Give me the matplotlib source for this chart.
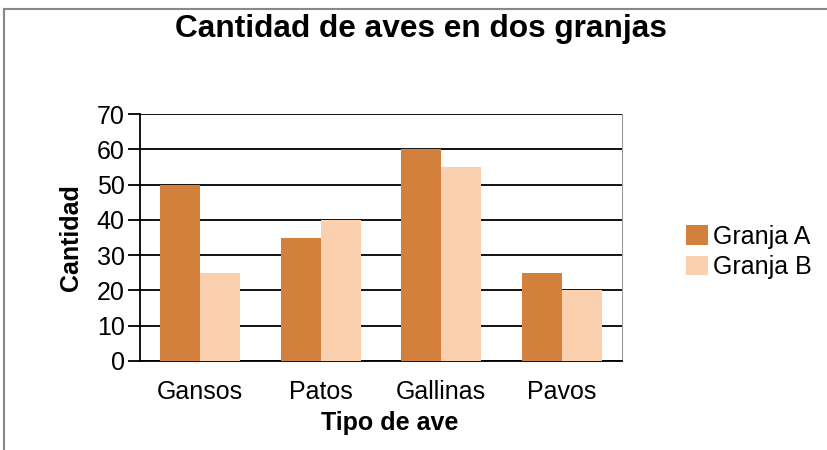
import numpy as np
import matplotlib
matplotlib.use("Agg")
import matplotlib.pyplot as plt
from matplotlib.lines import Line2D

plt.rcParams['font.family'] = ['Liberation Sans', 'DejaVu Sans']

categorias = ["Gansos", "Patos", "Gallinas", "Pavos"]
granja_a = [50, 35, 60, 25]
granja_b = [25, 40, 55, 20]
series = ["Granja A", "Granja B"]
colores = ["#D3803C", "#FAD0AE"]

fig = plt.figure(figsize=(8.28, 4.5), dpi=100)
W, H = 828, 450
ax = fig.add_axes([140 / W, 1 - 361 / H, (622 - 140) / W, (361 - 114) / H])

x = np.arange(len(categorias))
w = 1 / 3
ax.bar(x - w / 2, granja_a, width=w, color=colores[0], label=series[0], zorder=3)
ax.bar(x + w / 2, granja_b, width=w, color=colores[1], label=series[1], zorder=3)

ax.set_xlim(-0.5, len(categorias) - 0.5)
ax.set_ylim(0, 70)
ax.set_yticks(range(0, 71, 10))
ax.yaxis.grid(True, color="black", linewidth=1.3, zorder=1)
ax.set_xticks(x)
ax.set_xticklabels(categorias)
ax.tick_params(axis="x", length=0, pad=14, labelsize=18)
ax.tick_params(axis="y", length=9, width=1.3, pad=2, labelsize=18)

ax.spines["top"].set_visible(False)
ax.spines["right"].set_color("#999999")
ax.spines["left"].set_linewidth(1.3)
ax.spines["bottom"].set_linewidth(1.3)

ax.set_xlabel("Tipo de ave", fontsize=18, fontweight="bold", labelpad=5)
ax.xaxis.label.set_x(0.517)
ax.set_ylabel("Cantidad", fontsize=18, fontweight="bold", labelpad=10)

fig.text(421 / W, 1 - 29 / H, "Cantidad de aves en dos granjas",
         ha="center", va="center", fontsize=22.8, fontweight="bold")

fig.legend(loc="center left", bbox_to_anchor=(664 / W, 1 - 252 / H),
           frameon=False, fontsize=18, handlelength=0.85, handleheight=0.85,
           handletextpad=0.2, labelspacing=0.25)

# marco gris parcial
fig.add_artist(Line2D([4 / W, 1], [1 - 9 / H, 1 - 9 / H], color="#888888", linewidth=1.5,
                      transform=fig.transFigure))
fig.add_artist(Line2D([4 / W, 4 / W], [0, 1 - 9 / H], color="#888888", linewidth=1.5,
                      transform=fig.transFigure))

fig.savefig("out.png", dpi=100)
